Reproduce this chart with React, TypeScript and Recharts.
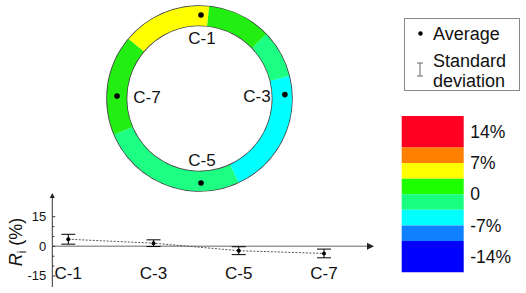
import {
  PieChart,
  Pie,
  Cell,
  ScatterChart,
  Scatter,
  ComposedChart,
  Line,
  ErrorBar,
  ReferenceLine,
  BarChart,
  Bar,
  XAxis,
  YAxis,
  Legend,
} from 'recharts';

// ring: segment spans in degrees, counter-clockwise starting at 84°
const ringSpans = [56, 63, 92, 79, 30, 40];
const ringColors = ['#ffff00', '#22ee11', '#1cff82', '#00ffff', '#1cff82', '#22ee11'];

// measuring positions
const positions = ['C-1', 'C-3', 'C-5', 'C-7'];
const positionAngles = [90, 3, 270, 178];
const averages = [3.6, 1.6, -2.2, -3.6];
const deviations = [2.5, 1.7, 2.0, 2.2];

const yTicks = [-15, -10, -5, 0, 5, 10, 15];
const yLabelTicks = [-15, 0, 15];

// colour scale (positive bands stack up from 0, negative ones down)
const scaleBands = ['green', 'yellow', 'orange', 'red', 'teal', 'cyan', 'blue', 'navy'];
const scaleValues = [3.5, 3.5, 3.5, 7, -3.5, -3.5, -3.5, -7];
const scaleColors = ['#1eff00', '#ffff00', '#ff8000', '#ff0022', '#19ff80', '#00ffff', '#0f80ff', '#0000ff'];
const scaleTicks = [-14, -7, 0, 7, 14];

const legendLines = [['Average'], ['Standard', 'deviation']];

const FONT = '"Liberation Sans", Arial, sans-serif';

const ringData = ringSpans.map((span, i) => ({ span, color: ringColors[i] }));
const rad = (a: number) => (a * Math.PI) / 180;
const dotData = positions.map((name, i) => ({
  name,
  x: 84 * Math.cos(rad(positionAngles[i])),
  y: 84 * Math.sin(rad(positionAngles[i])),
}));
const labelData = positions.map((name, i) => ({
  name,
  x: 55 * Math.cos(rad(positionAngles[i])) + 1,
  y: 61 * Math.sin(rad(positionAngles[i])),
}));
const profileData = positions.map((name, i) => ({ name, avg: averages[i], sd: deviations[i] }));
const scaleRow: Record<string, any> = { name: 'scale' };
scaleBands.forEach((b, i) => (scaleRow[b] = scaleValues[i]));

const renderYTick = (props: any) => {
  const { x, y, payload } = props;
  const major = yLabelTicks.includes(payload.value);
  return (
    <g>
      <line x1={x + 6} x2={x + 6 + (major ? 3 : 2)} y1={y} y2={y} stroke="#333" />
      {major && (
        <text x={x} y={y} dy="0.35em" textAnchor="end" fontSize={13} fill="#111">
          {payload.value}
        </text>
      )}
    </g>
  );
};

const renderXTick = (props: any) => {
  const { x, y, payload } = props;
  return (
    <text x={x} y={y - 8} textAnchor="middle" fontSize={17} fill="#111">
      {payload.value}
    </text>
  );
};

const renderYLabel = (props: any) => {
  const { viewBox } = props;
  const cx = viewBox.x + 3;
  const cy = viewBox.y + viewBox.height / 2;
  return (
    <text x={cx} y={cy} transform={`rotate(-90 ${cx} ${cy})`} textAnchor="middle" dy="0.35em" fontSize={18} fill="#111">
      <tspan fontStyle="italic">R</tspan>
      <tspan fontSize={12} dy={4}>i</tspan>
      <tspan dy={-4}> (%)</tspan>
    </text>
  );
};

const renderLegend = () => (
  <svg width={116} height={73} style={{ display: 'block' }}>
    <rect x={0.5} y={0.5} width={115} height={72} fill="#fff" stroke="#888" />
    <circle cx={16.5} cy={15.5} r={2.2} fill="#000" />
    <g stroke="#666" strokeWidth={1}>
      <line x1={16} x2={16} y1={45} y2={58} />
      <line x1={13} x2={19} y1={45} y2={45} />
      <line x1={13} x2={19} y1={58} y2={58} />
    </g>
    <text x={29} y={21.5} fontSize={18} fill="#111">{legendLines[0][0]}</text>
    <text x={29} y={48.5} fontSize={18} fill="#111">{legendLines[1][0]}</text>
    <text x={29} y={68.5} fontSize={18} fill="#111">{legendLines[1][1]}</text>
  </svg>
);

export default function App() {
  return (
    <div style={{ position: 'absolute', left: 0, top: 0, width: 526, height: 293, background: '#fff', fontFamily: FONT }}>
      <svg width={0} height={0} style={{ position: 'absolute' }}>
        <defs>
          <marker id="arrowHead" viewBox="0 0 10 10" refX={2} refY={5} markerWidth={5} markerHeight={5} orient="auto-start-reverse" markerUnits="strokeWidth">
            <path d="M0,0 L10,5 L0,10 z" fill="#222" />
          </marker>
        </defs>
      </svg>

      <div style={{ position: 'absolute', left: 0, top: 0 }}>
        <PieChart width={526} height={293} margin={{ top: 0, right: 0, bottom: 0, left: 0 }}>
          <Pie
            data={[{ v: 1 }]}
            dataKey="v"
            cx={199.5}
            cy={98.5}
            innerRadius={73}
            outerRadius={92.5}
            fill="none"
            stroke="#444"
            strokeWidth={1.6}
            isAnimationActive={false}
          />
          <Pie
            data={ringData}
            dataKey="span"
            cx={199.5}
            cy={98.5}
            innerRadius={73}
            outerRadius={92.5}
            startAngle={84}
            endAngle={444}
            stroke="none"
            isAnimationActive={false}
          >
            {ringData.map((d, i) => (
              <Cell key={i} fill={d.color} />
            ))}
          </Pie>
        </PieChart>
      </div>

      <div style={{ position: 'absolute', left: 101, top: -1 }}>
        <ScatterChart width={200} height={200} margin={{ top: 0, right: 0, bottom: 0, left: 0 }}>
          <XAxis type="number" dataKey="x" domain={[-100, 100]} hide />
          <YAxis type="number" dataKey="y" domain={[-100, 100]} hide />
          <Scatter
            data={dotData}
            isAnimationActive={false}
            shape={(p: any) => <circle cx={p.cx} cy={p.cy} r={2.8} fill="#000" />}
          />
          <Scatter
            data={labelData}
            isAnimationActive={false}
            shape={(p: any) => (
              <text x={p.cx} y={p.cy} dy="0.35em" textAnchor="middle" fontSize={17} fill="#111">
                {p.payload.name}
              </text>
            )}
          />
        </ScatterChart>
      </div>

      <div style={{ position: 'absolute', left: 0, top: 0 }}>
        <BarChart
          width={526}
          height={293}
          data={[scaleRow]}
          stackOffset="sign"
          barCategoryGap={0}
          margin={{ top: 116, right: 2.7, bottom: 20.7, left: 401.7 }}
        >
          <XAxis dataKey="name" hide />
          <YAxis
            orientation="right"
            type="number"
            domain={[-17.5, 17.5]}
            ticks={scaleTicks}
            width={60}
            axisLine={false}
            tickLine={false}
            tickSize={0}
            tickMargin={7}
            tick={{ fill: '#111', fontSize: 17.5 }}
            tickFormatter={(v: number) => (v === 0 ? '0' : `${v}%`)}
          />
          {scaleBands.map((b, i) => (
            <Bar key={b} dataKey={b} stackId="s" fill={scaleColors[i]} isAnimationActive={false} />
          ))}
        </BarChart>
      </div>

      <div style={{ position: 'absolute', left: 0, top: 0 }}>
        <ComposedChart
          width={526}
          height={293}
          data={profileData}
          margin={{ top: 197, right: 158, bottom: 0, left: 12.3 }}
        >
          <XAxis
            dataKey="name"
            scale="point"
            padding={{ left: 16, right: 44 }}
            axisLine={false}
            tickLine={false}
            tickSize={0}
            tickMargin={0}
            height={6}
            tick={renderXTick}
            interval={0}
          />
          <YAxis
            type="number"
            domain={[-20.6, 25]}
            ticks={yTicks}
            width={40}
            tickSize={0}
            tickMargin={6}
            tickLine={false}
            axisLine={{ stroke: '#333', strokeWidth: 1, markerStart: 'url(#arrowHead)' }}
            tick={renderYTick}
            label={renderYLabel}
            interval={0}
          />
          <ReferenceLine y={0} stroke="#999" strokeWidth={1.5} markerEnd="url(#arrowHead)" />
          <Line
            dataKey="avg"
            name="Average"
            stroke="#555"
            strokeWidth={1}
            strokeDasharray="2 1.5"
            dot={{ r: 2, fill: '#000', stroke: '#000', strokeWidth: 0 }}
            isAnimationActive={false}
          >
            <ErrorBar dataKey="sd" width={7} stroke="#000" strokeWidth={1} direction="y" />
          </Line>
          <Legend
            layout="vertical"
            align="center"
            verticalAlign="middle"
            wrapperStyle={{ left: 404, top: 18, width: 116, height: 73 }}
            content={renderLegend}
          />
        </ComposedChart>
      </div>
    </div>
  );
}
